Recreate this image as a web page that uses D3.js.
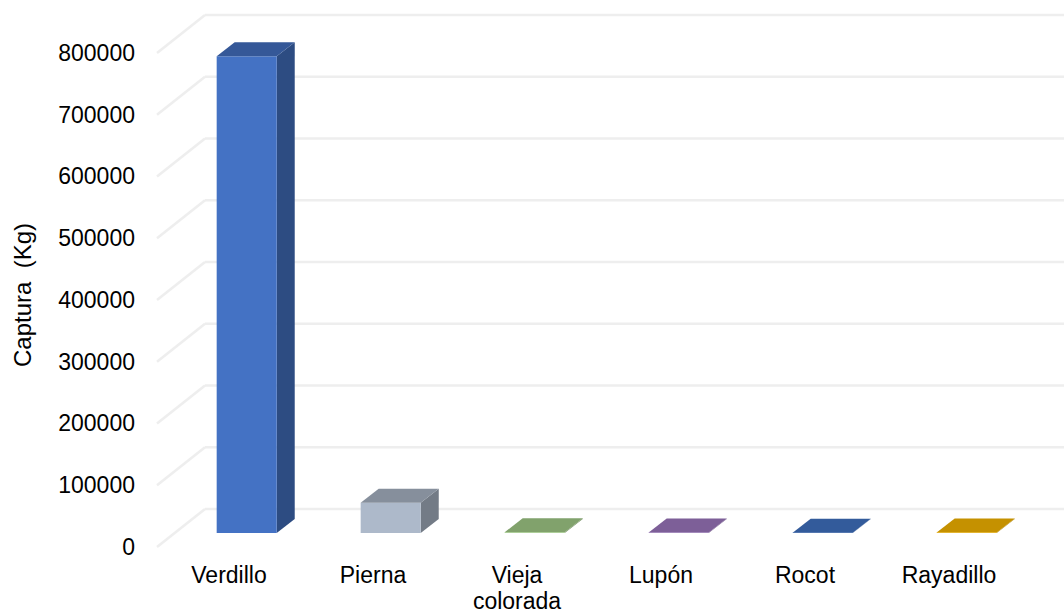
<!DOCTYPE html>
<html>
<head>
<meta charset="utf-8">
<script src="https://cdn.jsdelivr.net/npm/d3@7"></script>
<style>
  body { margin: 0; background: #fff; }
  svg text { font-family: Arial, "Liberation Sans", sans-serif; fill: #000; }
</style>
</head>
<body>
<div id="chart"></div>
<script>
// data
const categories = ["Verdillo", "Pierna", "Vieja colorada", "Lupón", "Rocot", "Rayadillo"];
const captura = [772000, 49000, 1200, 900, 600, 1000];
const barColors = ["#4472C4", "#ADB9CA", "#A7D28B", "#A27BC5", "#4275C9", "#FFBC00"];
const yTicks = [0, 100000, 200000, 300000, 400000, 500000, 600000, 700000, 800000];

const width = 1064, height = 613;

// oblique 3D: wall depth and bar depth offsets
const wall = { dx: 48, dy: -38 };
const barOff = { dx: 17.7, dy: -14 };
const barDepth = { dx: 18, dy: -14 };

const svg = d3.select("#chart").append("svg")
    .attr("width", width)
    .attr("height", height);

const x = d3.scaleBand()
    .domain(categories)
    .range([157, 1021])
    .paddingInner(0.583)
    .paddingOuter(0.2915);

const y = d3.scaleLinear()
    .domain([0, 800000])
    .range([547, 53]);

// grid: back wall lines + side diagonals
const grid = svg.append("g").attr("class", "grid");
grid.selectAll(".back")
    .data(yTicks)
    .enter().append("line")
    .attr("x1", 157 + wall.dx)
    .attr("x2", width)
    .attr("y1", d => y(d) + wall.dy)
    .attr("y2", d => y(d) + wall.dy)
    .attr("stroke", "#EEEEEE")
    .attr("stroke-width", 2.5);
grid.selectAll(".side")
    .data(yTicks)
    .enter().append("line")
    .attr("x1", 157)
    .attr("x2", 157 + wall.dx)
    .attr("y1", d => y(d))
    .attr("y2", d => y(d) + wall.dy)
    .attr("stroke", "#EEEEEE")
    .attr("stroke-width", 2.5);

// bars
const bars = svg.selectAll(".bar")
    .data(categories.map((c, i) => ({ name: c, value: captura[i], color: barColors[i] })))
    .enter().append("g")
    .attr("class", "bar");

bars.each(function(d) {
    const g = d3.select(this);
    const x0 = x(d.name) + barOff.dx;
    const x1 = x0 + x.bandwidth();
    const yb = y(0) + barOff.dy;
    const yt = y(d.value) + barOff.dy;
    const c = d3.color(d.color);
    const ddx = barDepth.dx, ddy = barDepth.dy;

    // side face
    g.append("path")
        .attr("d", `M${x1},${yb}L${x1 + ddx},${yb + ddy}L${x1 + ddx},${yt + ddy}L${x1},${yt}Z`)
        .attr("fill", c.darker(1.15));
    // front face
    g.append("rect")
        .attr("x", x0)
        .attr("y", yt)
        .attr("width", x1 - x0)
        .attr("height", yb - yt)
        .attr("fill", c);
    // top face
    g.append("path")
        .attr("d", `M${x0},${yt}L${x0 + ddx},${yt + ddy}L${x1 + ddx},${yt + ddy}L${x1},${yt}Z`)
        .attr("fill", c.darker(0.72));
});

// y axis labels
const yAxis = svg.append("g")
    .attr("transform", "translate(157,0)")
    .call(d3.axisLeft(y).tickValues(yTicks).tickSize(0).tickPadding(22).tickFormat(d3.format("d")));
yAxis.select(".domain").remove();
yAxis.selectAll("text")
    .style("font-size", "23px")
    .style("font-family", "Arial, 'Liberation Sans', sans-serif")
    .attr("fill", "#000");

// x labels, wrapped
const xLabels = svg.selectAll(".x-label")
    .data(categories)
    .enter().append("text")
    .attr("class", "x-label")
    .attr("text-anchor", "middle")
    .style("font-size", "23px")
    .attr("x", d => x(d) + x.bandwidth() / 2)
    .attr("y", 583);
xLabels.each(function(d) {
    const words = d.split(" ");
    const t = d3.select(this);
    words.forEach((w, i) => {
        t.append("tspan")
            .attr("x", x(d) + x.bandwidth() / 2)
            .attr("dy", i === 0 ? 0 : 26)
            .text(w);
    });
});

// y title
svg.append("text")
    .attr("transform", "translate(31,295) rotate(-90)")
    .attr("text-anchor", "middle")
    .style("font-size", "24px")
    .style("white-space", "pre")
    .text("Captura  (Kg)");
</script>
</body>
</html>
